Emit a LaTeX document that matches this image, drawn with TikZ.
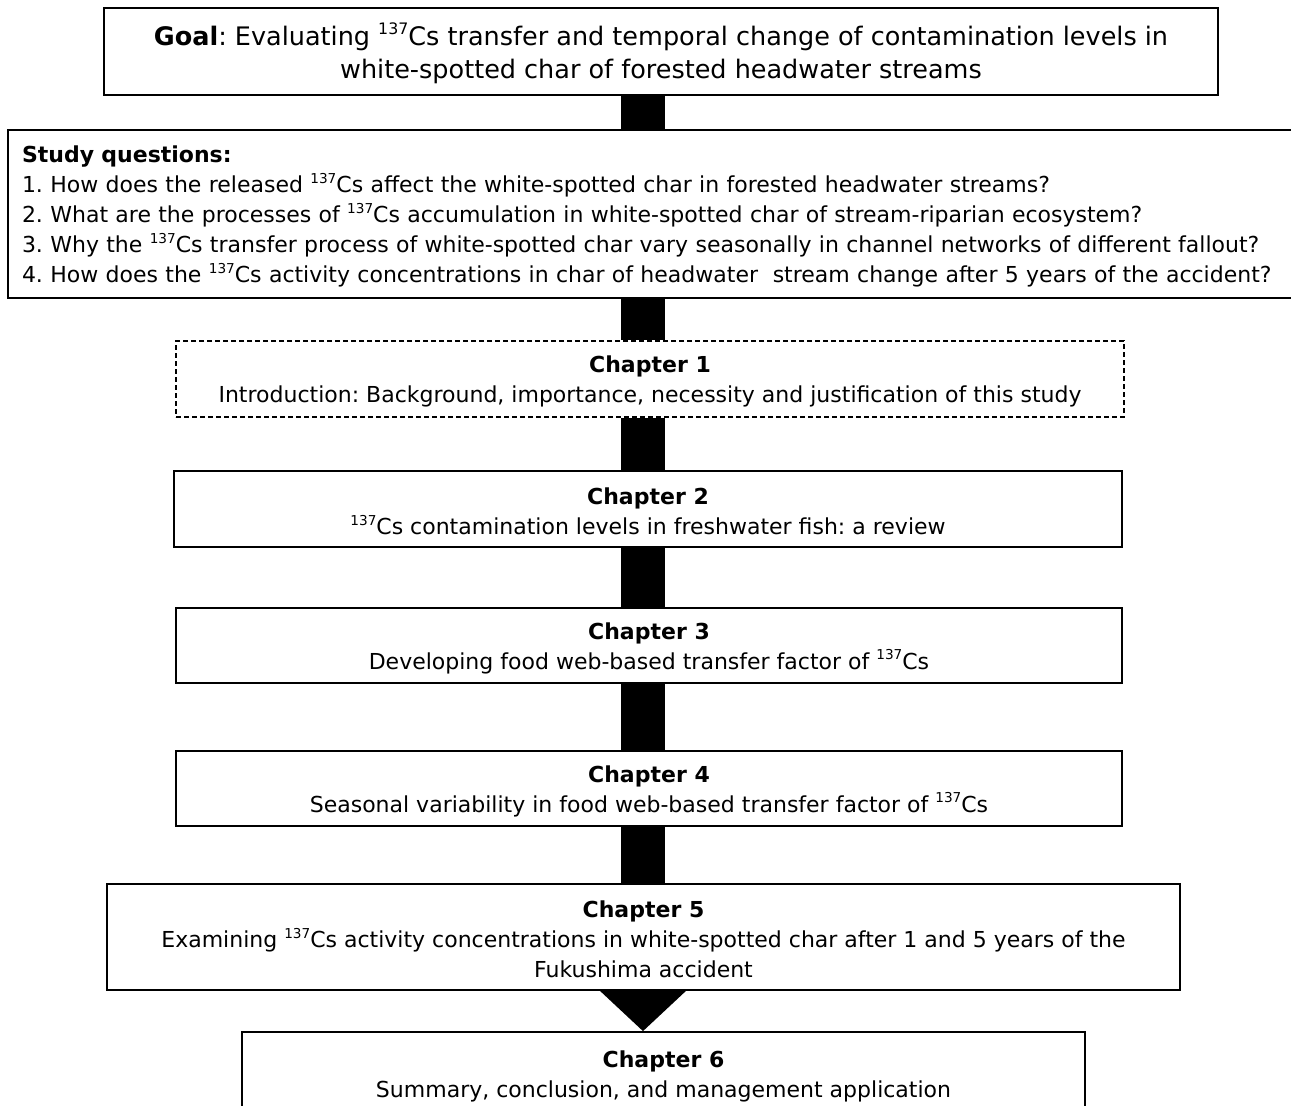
\documentclass[tikz,border=0pt]{standalone}
\usepackage{fontspec}
\setmainfont{DejaVu Sans}
\frenchspacing
\newcommand{\isot}{\raisebox{0.42em}{\scalebox{0.62}{137}}}
\newcommand{\tstrut}{\rule{0pt}{1.0em}}
\begin{document}
\begin{tikzpicture}[x=1pt,y=-1pt,
  box/.style={draw=black, line width=1.8pt, fill=white, align=center, inner sep=0pt,
    font=\fontsize{22}{30}\selectfont},
  bar/.style={fill=black}]
\clip (0,0) rectangle (1291,1106);
\useasboundingbox (0,0) rectangle (1291,1106);
\fill[white] (0,0) rectangle (1291,1106);
% x positions of the connector bars
\coordinate (bl) at (621,0);
\coordinate (br) at (665,0);
\coordinate (tl) at (600,0);
\coordinate (tr) at (686,0);
\coordinate (tm) at (643,0);
% boxes
\node[box, minimum width=1114, minimum height=87, font=\fontsize{25.5}{33}\selectfont] (goal) at (661,51.5)
  {\tstrut\textbf{Goal}: Evaluating \isot Cs transfer and temporal change of contamination levels in\\ white-spotted char of forested headwater streams};
\node[box, minimum height=168, text width=1274, inner xsep=14, align=left] (study) at (659,214)
  {\tstrut\textbf{Study questions:}\\
   1. How does the released \isot Cs affect the white-spotted char in forested headwater streams?\\
   2. What are the processes of \isot Cs accumulation in white-spotted char of stream-riparian ecosystem?\\
   3. Why the \isot Cs transfer process of white-spotted char vary seasonally in channel networks of different fallout?\\
   4. How does the \isot Cs activity concentrations in char of headwater\ \ stream change after 5 years of the accident?};
\node[box, dashed, line width=1.4pt, dash pattern=on 5pt off 3pt, minimum width=948, minimum height=76] (ch1) at (650,379)
  {\tstrut\textbf{Chapter 1}\\ Introduction: Background, importance, necessity and justification of this study};
\node[box, minimum width=948, minimum height=76] (ch2) at (648,509)
  {\tstrut\textbf{Chapter 2}\\ \isot Cs contamination levels in freshwater fish: a review};
\node[box, minimum width=946, minimum height=75] (ch3) at (649,645.5)
  {\tstrut\textbf{Chapter 3}\\ Developing food web-based transfer factor of \isot Cs};
\node[box, minimum width=946, minimum height=75] (ch4) at (649,788.5)
  {\tstrut\textbf{Chapter 4}\\ Seasonal variability in food web-based transfer factor of \isot Cs};
\node[box, minimum width=1073, minimum height=106] (ch5) at (643.5,937)
  {\tstrut\textbf{Chapter 5}\\ Examining \isot Cs activity concentrations in white-spotted char after 1 and 5 years of the\\ Fukushima accident};
\node[box, minimum width=843, minimum height=108] (ch6) at (663.5,1086)
  {\tstrut\textbf{Chapter 6}\\ Summary, conclusion, and management application\\ \mbox{}};
% connectors
\fill[bar] (goal.south -| bl) rectangle (study.north -| br);
\fill[bar] (study.south -| bl) rectangle (ch1.north -| br);
\fill[bar] (ch1.south -| bl) rectangle (ch2.north -| br);
\fill[bar] (ch2.south -| bl) rectangle (ch3.north -| br);
\fill[bar] (ch3.south -| bl) rectangle (ch4.north -| br);
\fill[bar] (ch4.south -| bl) rectangle (ch5.north -| br);
\fill[bar] (ch5.south -| tl) -- (ch5.south -| tr) -- (ch6.north -| tm) -- cycle;
\end{tikzpicture}
\end{document}
